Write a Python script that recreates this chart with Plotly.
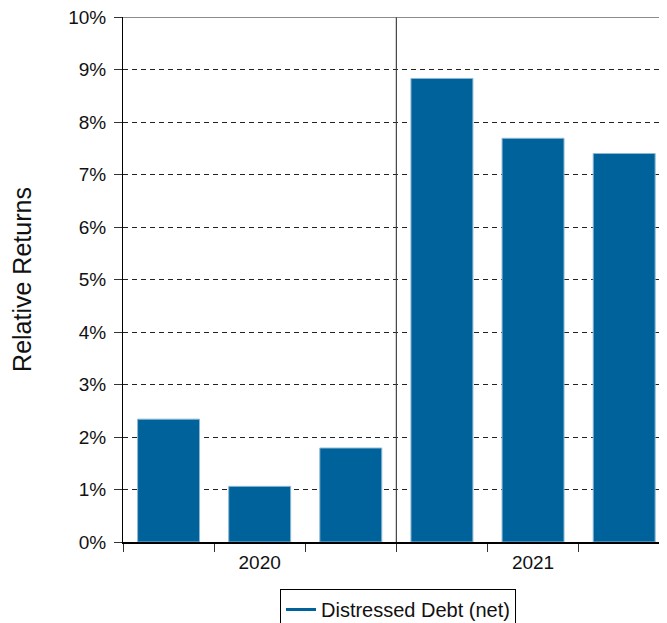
import plotly.graph_objects as go

groups = ["2020", "2021"]
returns_2020 = [2.34, 1.06, 1.79]
returns_2021 = [8.83, 7.69, 7.40]
y_ticks = [0, 1, 2, 3, 4, 5, 6, 7, 8, 9, 10]
y_tick_labels = [f"{v}%" for v in y_ticks]
series_name = "Distressed Debt (net)"

values = returns_2020 + returns_2021
xs = list(range(len(values)))
n1 = len(returns_2020)

BAR = "#00629B"
FONT = "Liberation Sans, Arial, sans-serif"

fig = go.Figure()
fig.add_trace(go.Bar(
    x=xs, y=values, marker=dict(color=BAR, line=dict(color="#8db8d4", width=1)),
    showlegend=False, hoverinfo="y",
))
fig.add_trace(go.Scatter(
    x=[None], y=[None], mode="lines", name=series_name,
    line=dict(color=BAR, width=3),
))

group_centers = [(n1 - 1) / 2, n1 + (len(returns_2021) - 1) / 2]
boundaries = [i - 0.5 for i in range(len(values) + 1)]

fig.update_layout(
    width=659, height=615,
    margin=dict(l=115, r=0, t=9, b=81, autoexpand=False),
    plot_bgcolor="white", paper_bgcolor="white",
    font=dict(family=FONT, size=19, color="#111"),
    bargap=0.32,
    xaxis=dict(
        range=[-0.5, len(values) - 0.53],
        tickvals=group_centers, ticktext=groups,
        ticks="", showgrid=False, zeroline=False, automargin=False,
        showline=True, linecolor="black", linewidth=2,
        ticklabelstandoff=2, ticklabeloverflow="allow",
        tickfont=dict(size=19),
        minor=dict(tickvals=boundaries, ticks="outside", ticklen=8,
                   tickcolor="#333", tickwidth=1, showgrid=False),
    ),
    yaxis=dict(
        range=[0, 10], tickvals=y_ticks, ticktext=y_tick_labels,
        ticks="outside", ticklen=8, tickcolor="#333",
        showline=True, linecolor="black", linewidth=1, automargin=False,
        showgrid=True, gridcolor="#222", gridwidth=1, griddash="5px,4px",
        zeroline=False, ticklabelstandoff=4, ticklabeloverflow="allow",
        tickfont=dict(size=19),
        title=dict(text="Relative Returns", font=dict(size=25), standoff=33),
    ),
    legend=dict(
        orientation="h", x=0.5055, xanchor="center", y=-0.0895, yanchor="top",
        bordercolor="black", borderwidth=1, bgcolor="white",
        font=dict(size=20),
    ),
    shapes=[
        dict(type="line", xref="x", yref="y", x0=n1 - 0.5, x1=n1 - 0.5, y0=0, y1=10,
             line=dict(color="#444", width=1.2)),
        dict(type="line", xref="paper", yref="y", x0=0, x1=1, y0=10, y1=10,
             line=dict(color="#666", width=1.5)),
    ],
)

fig.write_html("out.html")
